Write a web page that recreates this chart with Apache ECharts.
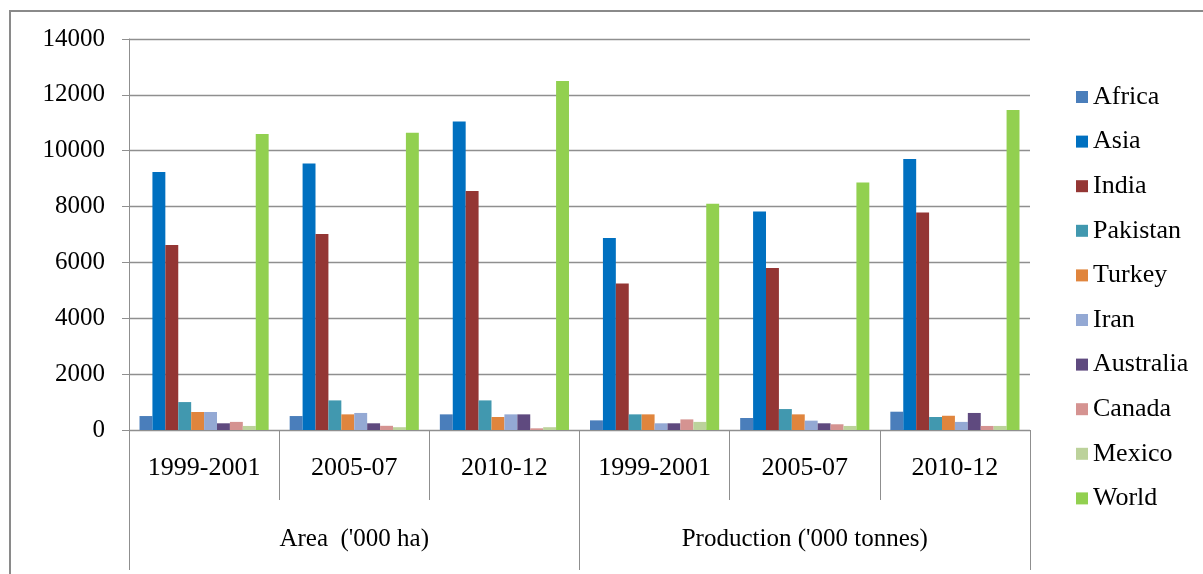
<!DOCTYPE html>
<html>
<head>
<meta charset="utf-8">
<script src="https://cdn.jsdelivr.net/npm/echarts@6/dist/echarts.min.js"></script>
<style>
  html, body { margin: 0; padding: 0; background: #fff; }
  #chart { width: 1203px; height: 574px; }
</style>
</head>
<body>
<div id="chart"></div>
<script>
// Periods within each measure (first level of the category axis)
const periods = ['1999-2001', '2005-07', '2010-12', '1999-2001', '2005-07', '2010-12'];
// Measures (second level of the category axis)
const measures = ["Area  ('000 ha)", "Production ('000 tonnes)"];
// Value axis ticks
const yMin = 0, yMax = 14000, yStep = 2000;

// Values per region: 3 area periods then 3 production periods
const africa    = [500, 500, 560, 345, 430, 655];
const asia      = [9240, 9545, 11045, 6875, 7825, 9700];
const india     = [6625, 7020, 8555, 5250, 5800, 7790];
const pakistan  = [1000, 1060, 1060, 560, 750, 465];
const turkey    = [645, 560, 465, 560, 560, 510];
const iran      = [645, 610, 560, 240, 335, 290];
const australia = [240, 240, 560, 240, 240, 610];
const canada    = [290, 150, 60, 380, 205, 145];
const mexico    = [145, 100, 100, 290, 145, 145];
const world     = [10595, 10640, 12500, 8100, 8865, 11460];

const seriesDefs = [
  ['Africa', africa, '#4A7EBB'],
  ['Asia', asia, '#0070C0'],
  ['India', india, '#943634'],
  ['Pakistan', pakistan, '#4198AF'],
  ['Turkey', turkey, '#E0853D'],
  ['Iran', iran, '#94A9D4'],
  ['Australia', australia, '#5F4A7F'],
  ['Canada', canada, '#D59391'],
  ['Mexico', mexico, '#BCD29B'],
  ['World', world, '#92D050']
];

const font = "'Liberation Serif', 'Times New Roman', serif";
const gridColor = '#8f8f8f';

const chart = echarts.init(document.getElementById('chart'), null, { renderer: 'canvas' });

chart.setOption({
  backgroundColor: '#ffffff',
  animation: false,
  textStyle: { fontFamily: font },
  graphic: [{
    type: 'rect',
    z: -10,
    shape: { x: 10, y: 11, width: 1260, height: 620 },
    style: { fill: 'none', stroke: '#8a8a8a', lineWidth: 2 }
  }],
  legend: {
    orient: 'vertical',
    left: 1071,
    top: 79,
    icon: 'rect',
    itemWidth: 12,
    itemHeight: 12,
    itemGap: 18.6,
    textStyle: { fontFamily: font, fontSize: 26, color: '#000', lineHeight: 26 },
    data: seriesDefs.map(d => d[0])
  },
  grid: { left: 129, right: 173, top: 39, bottom: 144, containLabel: false },
  xAxis: [
    {
      type: 'category',
      data: periods,
      position: 'bottom',
      axisLine: { show: true, lineStyle: { color: gridColor, width: 1 } },
      axisTick: { show: true, interval: 0, length: 70, lineStyle: { color: gridColor, width: 1 } },
      axisLabel: { interval: 0, margin: 25, fontFamily: font, fontSize: 26, color: '#000' }
    },
    {
      type: 'category',
      data: measures,
      position: 'bottom',
      axisLine: { show: false },
      axisTick: { show: true, interval: 0, length: 140, lineStyle: { color: gridColor, width: 1 } },
      axisLabel: { interval: 0, margin: 97, fontFamily: font, fontSize: 25, color: '#000' }
    }
  ],
  yAxis: {
    type: 'value',
    min: yMin,
    max: yMax,
    interval: yStep,
    axisLine: { show: true, lineStyle: { color: gridColor, width: 1 } },
    axisTick: { show: true, length: 7, lineStyle: { color: gridColor, width: 1 } },
    splitLine: { show: true, lineStyle: { color: gridColor, width: 1.3 } },
    axisLabel: {
      margin: 24, fontFamily: font, fontSize: 25, color: '#000',
      formatter: v => String(v)
    }
  },
  series: seriesDefs.map(([name, values, color]) => ({
    name: name,
    type: 'bar',
    xAxisIndex: 0,
    data: values,
    barGap: '0%',
    barCategoryGap: '14%',
    itemStyle: { color: color }
  }))
});
</script>
</body>
</html>
